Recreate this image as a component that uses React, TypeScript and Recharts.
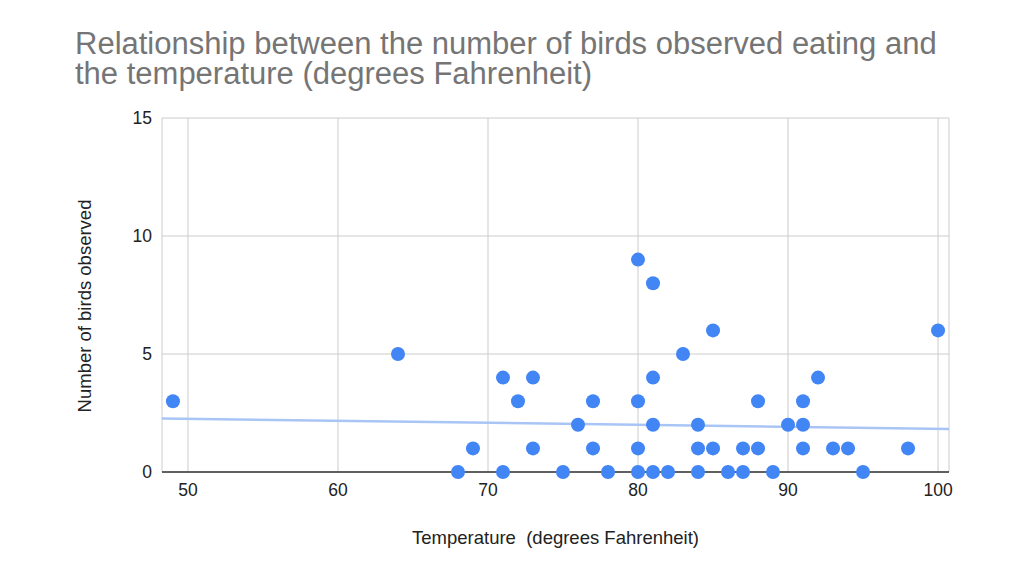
import { ScatterChart, Scatter, XAxis, YAxis, CartesianGrid } from "recharts";

// temperature (°F) and number of birds, one entry per observation
const temperatures = [
  49, 64, 68, 69, 71, 71, 72, 73, 73, 75, 76, 77, 77, 78,
  80, 80, 80, 80, 81, 81, 81, 81, 82, 83, 84, 84, 84, 85, 85,
  86, 87, 87, 88, 88, 89, 90, 91, 91, 91, 92, 93, 94, 95, 98, 100,
];
const birdCounts = [
  3, 5, 0, 1, 4, 0, 3, 4, 1, 0, 2, 3, 1, 0,
  9, 3, 1, 0, 8, 4, 2, 0, 0, 5, 2, 1, 0, 6, 1,
  0, 1, 0, 3, 1, 0, 2, 3, 2, 1, 4, 1, 1, 0, 1, 6,
];

const xTicks = [50, 60, 70, 80, 90, 100];
const yTicks = [0, 5, 10, 15];
const xDomain = [48.27, 100.73];

// trendline value at each end of the x range, as drawn in the chart
const trendValues = [2.27, 1.82];

const titleLines = [
  "Relationship between the number of birds observed eating and",
  "the temperature (degrees Fahrenheit)",
];

const points = temperatures.map((t, i) => ({ x: t, y: birdCounts[i] }));
const trend = xDomain.map((x, i) => ({ x, y: trendValues[i] }));

const font = '"Liberation Sans", Arial, sans-serif';

const Dot = (props: any) => <circle cx={props.cx} cy={props.cy} r={7} fill="#4285f4" />;

const YLabel = (props: any) => {
  const vb = props.viewBox;
  const cx = vb.x + 84;
  const cy = vb.y + vb.height / 2 + 11;
  return (
    <text
      x={cx}
      y={cy}
      transform={`rotate(-90, ${cx}, ${cy})`}
      textAnchor="middle"
      dominantBaseline="central"
      fill="#222222"
      fontSize={18.5}
    >
      Number of birds observed
    </text>
  );
};

const App = () => {
  return (
    <div style={{ position: "absolute", left: 0, top: 0, width: 1024, height: 576, background: "#fff", fontFamily: font }}>
      {titleLines.map((line, i) => (
        <div
          key={i}
          style={{
            position: "absolute",
            left: 75,
            top: 29 + i * 30,
            fontSize: 31,
            lineHeight: "30px",
            height: 30,
            color: "#757575",
            whiteSpace: "nowrap",
          }}
        >
          {line}
        </div>
      ))}
      <ScatterChart
        width={1024}
        height={576}
        margin={{ top: 118, right: 75, bottom: 0, left: 0 }}
        style={{ fontFamily: font }}
      >
        <CartesianGrid stroke="#cccccc" />
        <XAxis
          type="number"
          dataKey="x"
          domain={xDomain}
          ticks={xTicks}
          height={104}
          tickSize={0}
          tickMargin={12}
          axisLine={{ stroke: "#333333", strokeWidth: 1.5 }}
          tick={{ fill: "#222222", fontSize: 17.5 }}
          allowDataOverflow
          label={{
            value: "Temperature \u00a0(degrees Fahrenheit)",
            position: "insideBottom",
            offset: 32,
            fill: "#222222",
            fontSize: 18.5,
          }}
        />
        <YAxis
          type="number"
          dataKey="y"
          domain={[0, 15]}
          ticks={yTicks}
          width={162}
          tickSize={0}
          tickMargin={10}
          axisLine={false}
          tick={{ fill: "#222222", fontSize: 17.5 }}
          label={<YLabel />}
        />
        <Scatter
          data={trend}
          line={{ stroke: "#a9c5f5", strokeWidth: 2.5 }}
          shape={() => <g />}
          isAnimationActive={false}
        />
        <Scatter data={points} shape={<Dot />} isAnimationActive={false} />
      </ScatterChart>
    </div>
  );
};

export default App;
